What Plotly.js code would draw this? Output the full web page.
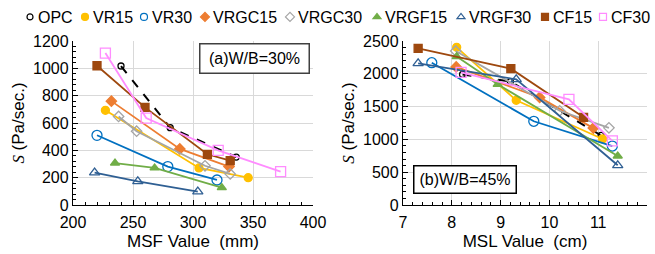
<!DOCTYPE html>
<html><head><meta charset="utf-8">
<script src="https://cdn.plot.ly/plotly-3.0.1.min.js"></script>
<style>html,body{margin:0;padding:0;background:#fff}#chart{width:655px;height:254px}</style>
</head><body><div id="chart"></div>
<script>
// Series names
const seriesNames = ['OPC','VR15','VR30','VRGC15','VRGC30','VRGF15','VRGF30','CF15','CF30'];

// (a) W/B=30% : MSF value (mm) vs S (Pa/sec.)
const opcA_x   = [240, 281, 336];        const opcA_y   = [1017, 566, 351];
const vr15A_x  = [227, 305, 346];        const vr15A_y  = [693, 271, 200];
const vr30A_x  = [220, 279, 320];        const vr30A_y  = [510, 281, 183];
const vrgc15A_x= [232, 289, 330];        const vrgc15A_y= [760, 410, 281];
const vrgc30A_x= [238, 253, 310, 331];   const vrgc30A_y= [648, 540, 287, 227];
const vrgf15A_x= [235, 268, 324];        const vrgf15A_y= [307, 271, 127];
const vrgf30A_x= [218, 254, 304];        const vrgf30A_y= [237, 173, 98];
const cf15A_x  = [220, 260, 312, 331];   const cf15A_y  = [1019, 714, 371, 324];
const cf30A_x  = [227, 261, 321, 373];   const cf30A_y  = [1112, 636, 400, 244];

// (b) W/B=45% : MSL value (cm) vs S (Pa/sec.)
const opcB_x   = [8.22, 9.2, 11.06];     const opcB_y   = [1990, 1882, 1060];
const vr15B_x  = [8.1, 9.32, 11.09];     const vr15B_y  = [2404, 1596, 1006];
const vr30B_x  = [7.59, 9.68, 11.29];    const vr30B_y  = [2169, 1276, 899];
const vrgc15B_x= [8.09, 9.8, 10.9];      const vrgc15B_y= [2105, 1640, 1172];
const vrgc30B_x= [8.08, 10.21, 11.22];   const vrgc30B_y= [2348, 1436, 1176];
const vrgf15B_x= [8.1, 8.94, 11.4];      const vrgf15B_y= [2262, 1840, 747];
const vrgf30B_x= [7.31, 9.32, 11.4];     const vrgf30B_y= [2160, 1916, 605];
const cf15B_x  = [7.31, 9.21, 10.7];     const cf15B_y  = [2389, 2078, 1337];
const cf30B_x  = [8.19, 10.4, 11.29];    const cf30B_y  = [2022, 1611, 976];

const dataA = [[opcA_x,opcA_y],[vr15A_x,vr15A_y],[vr30A_x,vr30A_y],[vrgc15A_x,vrgc15A_y],[vrgc30A_x,vrgc30A_y],[vrgf15A_x,vrgf15A_y],[vrgf30A_x,vrgf30A_y],[cf15A_x,cf15A_y],[cf30A_x,cf30A_y]];
const dataB = [[opcB_x,opcB_y],[vr15B_x,vr15B_y],[vr30B_x,vr30B_y],[vrgc15B_x,vrgc15B_y],[vrgc30B_x,vrgc30B_y],[vrgf15B_x,vrgf15B_y],[vrgf30B_x,vrgf30B_y],[cf15B_x,cf15B_y],[cf30B_x,cf30B_y]];

const styles = [
  {color:'#000000', symbol:'circle-open',   size:6, dash:'dash', lw:2},
  {color:'#FFC000', symbol:'circle',        size:8, dash:'solid', lw:1.8},
  {color:'#0070C0', symbol:'circle-open',   size:10, dash:'solid', lw:1.8},
  {color:'#ED7D31', symbol:'diamond',       size:8, dash:'solid', lw:1.8},
  {color:'#A5A5A5', symbol:'diamond-open',  size:8, dash:'solid', lw:1.8},
  {color:'#70AD47', symbol:'triangle-up',   size:8, dash:'solid', lw:1.8},
  {color:'#2F5F93', symbol:'triangle-up-open', size:9, dash:'solid', lw:1.8},
  {color:'#9E480E', symbol:'square',        size:8, dash:'solid', lw:1.8},
  {color:'#FF8CFF', symbol:'square-open',   size:10, dash:'solid', lw:1.8}
];
// where each legend label's text starts (px) in the top row
const legendTextPx = [38, 93, 152, 213, 298, 385, 469, 553, 611];

const traces = [];
function addSet(data, xa, ya){
  data.forEach((d,i)=>{
    const s = styles[i];
    traces.push({x:d[0], y:d[1], xaxis:xa, yaxis:ya, type:'scatter', mode:'lines+markers',
      showlegend:false, name:seriesNames[i],
      line:{color:s.color, width:s.lw, dash:s.dash},
      marker:{color:s.color, symbol:s.symbol, size:s.size, line:{color:s.color, width:1.3}}});
  });
}
addSet(dataA,'x','y');
addSet(dataB,'x2','y2');
// legend-only entries (markers only, as in the reference legend), one legend each
seriesNames.forEach((n,i)=>{
  const s = styles[i];
  traces.push({x:[null], y:[null], xaxis:'x', yaxis:'y', type:'scatter', mode:'markers', name:n, showlegend:true,
    legend: i===0 ? 'legend' : 'legend'+(i+1),
    marker:{color:s.color, symbol:s.symbol, size:Math.min(s.size,7), line:{color:s.color, width:1.2}}});
});

const tickFont = {family:'Liberation Sans, Arial, sans-serif', size:16, color:'#000'};
const yTitle = '<span style="font-family:\'Liberation Serif\',serif;font-style:italic">S</span> (Pa/sec.)';
function axis(o){
  return Object.assign({showline:true, linecolor:'#000', linewidth:1.2, ticks:'inside', ticklen:5, tickcolor:'#000', tickwidth:1,
    showgrid:true, gridcolor:'#D9D9D9', gridwidth:1, zeroline:false, tickfont:tickFont, fixedrange:true}, o);
}
const layout = {
  width:655, height:254, margin:{l:0,r:0,t:0,b:0, autoexpand:false}, paper_bgcolor:'#fff', plot_bgcolor:'#fff',
  font:{family:'Liberation Sans, Arial, sans-serif', color:'#000'},
  showlegend:true,
  xaxis: axis({domain:[73/655, 313/655], anchor:'y', range:[200,400], dtick:50, tick0:200, ticklabelstandoff:3,
    minor:{dtick:10, ticks:'inside', ticklen:3, tickcolor:'#000', showgrid:false},
    title:{text:'MSF Value\u00a0 (mm)', font:{size:17}, standoff:4}}),
  yaxis: axis({domain:[1-205/254, 1-41/254], anchor:'x', range:[0,1200], dtick:200, tick0:0,
    minor:{dtick:40, ticks:'inside', ticklen:3, tickcolor:'#000', showgrid:false},
    title:{text:yTitle, font:{size:17}, standoff:4}}),
  xaxis2: axis({domain:[403/655, 647/655], anchor:'y2', range:[7,12], dtick:1, tick0:7, ticklabelstandoff:3,
    minor:{dtick:0.2, ticks:'inside', ticklen:3, tickcolor:'#000', showgrid:false},
    title:{text:'MSL Value\u00a0 (cm)', font:{size:17}, standoff:4}}),
  yaxis2: axis({domain:[1-205/254, 1-41/254], anchor:'x2', range:[0,2500], dtick:500, tick0:0,
    minor:{dtick:100, ticks:'inside', ticklen:3, tickcolor:'#000', showgrid:false},
    title:{text:yTitle, font:{size:17}, standoff:4}}),
  annotations:[
    {text:'(a)W/B=30%', xref:'paper', yref:'paper', x:199/655, y:1-43/254, xanchor:'left', yanchor:'top', showarrow:false,
     width:102, height:22, font:{size:16, color:'#000'}, bordercolor:'#404040', borderwidth:1.5, borderpad:3, bgcolor:'#fff'},
    {text:'(b)W/B=45%', xref:'paper', yref:'paper', x:413/655, y:1-165/254, xanchor:'left', yanchor:'top', showarrow:false,
     width:95, height:20, font:{size:16, color:'#000'}, bordercolor:'#000', borderwidth:1.5, borderpad:3, bgcolor:'#fff'}
  ]
};
legendTextPx.forEach((px,i)=>{
  const key = i===0 ? 'legend' : 'legend'+(i+1);
  layout[key] = {orientation:'h', x:(px-40)/655, y:1.0, xanchor:'left', yanchor:'top', font:{size:16, color:'#000'},
    itemwidth:30, bgcolor:'rgba(0,0,0,0)', borderwidth:0};
});
Plotly.newPlot('chart', traces, layout, {staticPlot:true, displayModeBar:false}).then(gd=>{
  // tighten the gap between each legend symbol and its label, as in the reference
  gd.querySelectorAll('.legendsymbols').forEach(el=>{
    const t = el.getAttribute('transform') || '';
    el.setAttribute('transform', 'translate(12,0) ' + t);
  });
});
</script></body></html>
